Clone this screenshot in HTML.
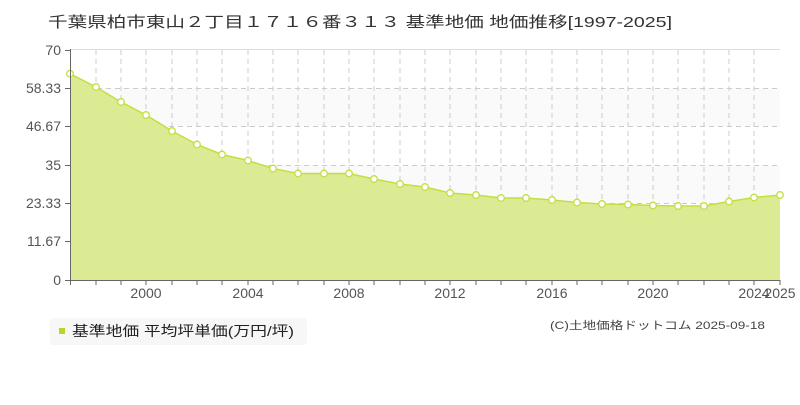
<!DOCTYPE html><html><head><meta charset="utf-8"><style>body{margin:0;background:#fff}svg text{font-family:"Liberation Sans","Noto Sans CJK JP",sans-serif}</style></head><body>
<svg width="800" height="400" xmlns="http://www.w3.org/2000/svg">
<text x="48" y="27" font-size="15" fill="#333" textLength="624" lengthAdjust="spacingAndGlyphs">千葉県柏市東山２丁目１７１６番３１３ 基準地価 地価推移[1997-2025]</text>
<rect x="70" y="88" width="710" height="38" fill="#fafafa"/>
<rect x="70" y="165" width="710" height="38" fill="#fafafa"/>
<rect x="70" y="241" width="710" height="39" fill="#fafafa"/>
<line x1="70" y1="49.5" x2="780" y2="49.5" stroke="#ddd"/>
<g stroke="#ccc" stroke-dasharray="5,4">
<path d="M70 88.5H780M70 126.5H780M70 165.5H780M70 203.5H780M70 241.5H780"/>
<path d="M96 50V280M121 50V280M146 50V280M172 50V280M197 50V280M222 50V280M248 50V280M273 50V280M298 50V280M324 50V280M349 50V280M374 50V280M400 50V280M425 50V280M450 50V280M476 50V280M501 50V280M526 50V280M552 50V280M577 50V280M602 50V280M628 50V280M653 50V280M678 50V280M704 50V280M729 50V280M754 50V280"/>
</g>
<path d="M70 73.7L96 87L121 102L146 115L172 131L197 144.5L222 154.5L248 160.5L273 168.5L298 173.5L324 173.5L349 173.5L374 179L400 184L425 187L450 193L476 195L501 198L526 198L552 200L577 202.5L602 204L628 204.5L653 205.5L678 206L704 206L729 201.5L754 197.5L780 195L780 280L70 280Z" fill="#dbeb94"/>
<path d="M70 73.7L96 87L121 102L146 115L172 131L197 144.5L222 154.5L248 160.5L273 168.5L298 173.5L324 173.5L349 173.5L374 179L400 184L425 187L450 193L476 195L501 198L526 198L552 200L577 202.5L602 204L628 204.5L653 205.5L678 206L704 206L729 201.5L754 197.5L780 195" fill="none" stroke="#c2df3f" stroke-width="1.5"/>
<g fill="#fff" stroke="#c2df3f" stroke-width="1.3">
<circle cx="70" cy="73.7" r="3.3"/><circle cx="96" cy="87" r="3.3"/><circle cx="121" cy="102" r="3.3"/><circle cx="146" cy="115" r="3.3"/><circle cx="172" cy="131" r="3.3"/><circle cx="197" cy="144.5" r="3.3"/><circle cx="222" cy="154.5" r="3.3"/><circle cx="248" cy="160.5" r="3.3"/><circle cx="273" cy="168.5" r="3.3"/><circle cx="298" cy="173.5" r="3.3"/><circle cx="324" cy="173.5" r="3.3"/><circle cx="349" cy="173.5" r="3.3"/><circle cx="374" cy="179" r="3.3"/><circle cx="400" cy="184" r="3.3"/><circle cx="425" cy="187" r="3.3"/><circle cx="450" cy="193" r="3.3"/><circle cx="476" cy="195" r="3.3"/><circle cx="501" cy="198" r="3.3"/><circle cx="526" cy="198" r="3.3"/><circle cx="552" cy="200" r="3.3"/><circle cx="577" cy="202.5" r="3.3"/><circle cx="602" cy="204" r="3.3"/><circle cx="628" cy="204.5" r="3.3"/><circle cx="653" cy="205.5" r="3.3"/><circle cx="678" cy="206" r="3.3"/><circle cx="704" cy="206" r="3.3"/><circle cx="729" cy="201.5" r="3.3"/><circle cx="754" cy="197.5" r="3.3"/><circle cx="780" cy="195" r="3.3"/>
</g>
<g stroke="#666"><line x1="70.5" y1="49" x2="70.5" y2="285"/><line x1="70" y1="280.5" x2="780" y2="280.5"/>
<path d="M65 50.5H70M65 88.5H70M65 126.5H70M65 165.5H70M65 203.5H70M65 241.5H70M65 280.5H70"/>
<path d="M96 280V285M121 280V285M146 280V285M172 280V285M197 280V285M222 280V285M248 280V285M273 280V285M298 280V285M324 280V285M349 280V285M374 280V285M400 280V285M425 280V285M450 280V285M476 280V285M501 280V285M526 280V285M552 280V285M577 280V285M602 280V285M628 280V285M653 280V285M678 280V285M704 280V285M729 280V285M754 280V285M780 280V285"/></g>
<g font-size="14" fill="#555" text-anchor="end">
<text x="61" y="55">70</text><text x="61" y="93">58.33</text><text x="61" y="131">46.67</text><text x="61" y="170">35</text><text x="61" y="208">23.33</text><text x="61" y="246">11.67</text><text x="61" y="285">0</text></g>
<g font-size="14" fill="#555" text-anchor="middle">
<text x="146" y="298">2000</text><text x="248" y="298">2004</text><text x="349" y="298">2008</text><text x="450" y="298">2012</text><text x="552" y="298">2016</text><text x="653" y="298">2020</text><text x="754" y="298">2024</text><text x="780" y="298">2025</text></g>
<rect x="50" y="318" width="257" height="27" rx="3" fill="#f7f7f7"/>
<rect x="59" y="328" width="6" height="6" fill="#b5d62a"/>
<text x="72" y="336" font-size="14" fill="#222" textLength="222" lengthAdjust="spacingAndGlyphs">基準地価 平均坪単価(万円/坪)</text>
<text x="550" y="329" font-size="11" fill="#444" textLength="215" lengthAdjust="spacingAndGlyphs">(C)土地価格ドットコム 2025-09-18</text>
</svg></body></html>
